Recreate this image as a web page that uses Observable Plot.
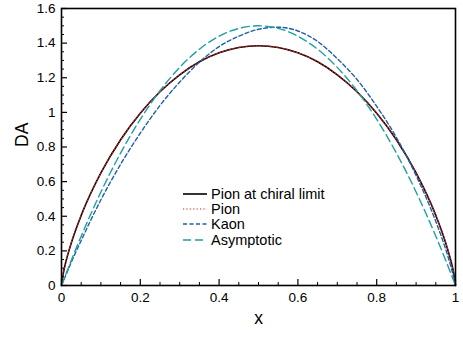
<!DOCTYPE html>
<html>
<head>
<meta charset="utf-8">
<script src="https://cdn.jsdelivr.net/npm/d3@7"></script>
<script src="https://cdn.jsdelivr.net/npm/@observablehq/plot@0.6"></script>
<style>
  html, body { margin: 0; padding: 0; background: #fff; }
  #wrap { position: relative; width: 463px; height: 347px; font-family: "Liberation Sans", Arial, Helvetica, sans-serif; }
  #legend { position: absolute; left: 183px; top: 186px; font-size: 14.5px; color: #000; }
  #legend .row { display: flex; align-items: center; height: 15.4px; }
  #legend svg { margin-right: 4px; }
</style>
</head>
<body>
<div id="wrap"><div id="chart"></div><div id="legend"></div></div>
<script>
// ---- data ----
const xChiral = [0, 0.005, 0.01, 0.025, 0.05, 0.1, 0.15, 0.2, 0.25, 0.3, 0.35, 0.4, 0.45, 0.5, 0.55, 0.6, 0.65, 0.7, 0.75, 0.8, 0.85, 0.9, 0.95, 0.975, 0.99, 0.995, 1];
const yChiral = [0, 0.076, 0.127, 0.247, 0.405, 0.650, 0.842, 0.995, 1.119, 1.217, 1.292, 1.344, 1.375, 1.385, 1.375, 1.344, 1.292, 1.217, 1.119, 0.995, 0.842, 0.650, 0.405, 0.247, 0.127, 0.076, 0];
const xPion = [0, 0.005, 0.01, 0.025, 0.05, 0.1, 0.15, 0.2, 0.25, 0.3, 0.35, 0.4, 0.45, 0.5, 0.55, 0.6, 0.65, 0.7, 0.75, 0.8, 0.85, 0.9, 0.95, 0.975, 0.99, 0.995, 1];
const yPion = [0, 0.076, 0.127, 0.247, 0.405, 0.650, 0.842, 0.995, 1.119, 1.217, 1.292, 1.344, 1.375, 1.385, 1.375, 1.344, 1.292, 1.217, 1.119, 0.995, 0.842, 0.650, 0.405, 0.247, 0.127, 0.076, 0];
const xKaon = [0, 0.025, 0.05, 0.1, 0.15, 0.2, 0.25, 0.3, 0.35, 0.4, 0.45, 0.5, 0.55, 0.6, 0.65, 0.7, 0.75, 0.8, 0.85, 0.9, 0.95, 0.975, 0.99, 1];
const yKaon = [0, 0.135, 0.26, 0.495, 0.70, 0.88, 1.04, 1.175, 1.29, 1.38, 1.44, 1.48, 1.492, 1.47, 1.41, 1.31, 1.19, 1.035, 0.855, 0.635, 0.37, 0.21, 0.095, 0];
const xAsym = [0, 0.025, 0.05, 0.1, 0.15, 0.2, 0.25, 0.3, 0.35, 0.4, 0.45, 0.5, 0.55, 0.6, 0.65, 0.7, 0.75, 0.8, 0.85, 0.9, 0.95, 0.975, 1];
const yAsym = [0, 0.146, 0.285, 0.54, 0.765, 0.96, 1.125, 1.26, 1.365, 1.44, 1.485, 1.5, 1.485, 1.44, 1.365, 1.26, 1.125, 0.96, 0.765, 0.54, 0.285, 0.146, 0];

const seriesNames = ["Pion at chiral limit", "Pion", "Kaon", "Asymptotic"];
const xMajor = [0, 0.2, 0.4, 0.6, 0.8, 1];
const xMinor = [0.05, 0.1, 0.15, 0.25, 0.3, 0.35, 0.45, 0.5, 0.55, 0.65, 0.7, 0.75, 0.85, 0.9, 0.95];
const yMajor = [0, 0.2, 0.4, 0.6, 0.8, 1, 1.2, 1.4, 1.6];
const yMinor = [0.05, 0.1, 0.15, 0.25, 0.3, 0.35, 0.45, 0.5, 0.55, 0.65, 0.7, 0.75, 0.85, 0.9, 0.95, 1.05, 1.1, 1.15, 1.25, 1.3, 1.35, 1.45, 1.5, 1.55];

// ---- styles ----
const styles = [
  {stroke: "#000000", strokeWidth: 1.6, dash: null},
  {stroke: "#cc2020", strokeWidth: 1.1, dash: "1.2,2.2"},
  {stroke: "#1f5fa6", strokeWidth: 1.4, dash: "4,2.5"},
  {stroke: "#1ea0a0", strokeWidth: 1.4, dash: "8,4"}
];
const xsAll = [xChiral, xPion, xKaon, xAsym];
const ysAll = [yChiral, yPion, yKaon, yAsym];
const tables = xsAll.map((xs, i) => xs.map((x, j) => ({x, y: ysAll[i][j]})));

const W = 463, H = 347, mL = 61, mR = 8, mT = 8, mB = 62;
const fw = W - mL - mR, fh = H - mT - mB;
const font = "Liberation Sans, Arial, Helvetica, sans-serif";

const chart = Plot.plot({
  width: W, height: H,
  marginLeft: mL, marginRight: mR, marginTop: mT, marginBottom: mB,
  style: {fontFamily: font, background: "#fff", overflow: "visible"},
  x: {domain: [0, 1]},
  y: {domain: [0, 1.6]},
  marks: [
    Plot.axisX(xMajor, {tickSize: 0, tickPadding: 7, fontSize: 13.5, tickFormat: d3.format("~g"), label: null, fill: "#000"}),
    Plot.axisY(yMajor, {tickSize: 0, tickPadding: 6, fontSize: 13.5, tickFormat: d3.format("~g"), label: null, fill: "#000"}),
    Plot.tickX(xMajor, {x: d => d, insetTop: fh - 6, stroke: "#000", strokeWidth: 1.2}),
    Plot.tickX(xMinor, {x: d => d, insetTop: fh - 3, stroke: "#000", strokeWidth: 1}),
    Plot.tickY(yMajor, {y: d => d, insetRight: fw - 6, stroke: "#000", strokeWidth: 1.2}),
    Plot.tickY(yMinor, {y: d => d, insetRight: fw - 3, stroke: "#000", strokeWidth: 1}),
    ...tables.map((t, i) => Plot.line(t, {
      x: "x", y: "y", curve: "monotone-x",
      stroke: styles[i].stroke, strokeWidth: styles[i].strokeWidth,
      strokeDasharray: styles[i].dash
    })),
    Plot.frame({stroke: "#000", strokeWidth: 1.6}),
    Plot.text(["DA"], {frameAnchor: "left", dx: -39, rotate: -90, fontSize: 17.5, fill: "#000", text: d => d}),
    Plot.text(["x"], {frameAnchor: "bottom", dy: 38, fontSize: 17.5, fill: "#000", text: d => d})
  ]
});
document.getElementById("chart").appendChild(chart);

// ---- legend ----
const legend = d3.select("#legend");
seriesNames.forEach((name, i) => {
  const row = legend.append("div").attr("class", "row");
  const svg = row.append("svg").attr("width", 24).attr("height", 10);
  svg.append("line").attr("x1", 0).attr("x2", 24).attr("y1", 5).attr("y2", 5)
    .attr("stroke", styles[i].stroke).attr("stroke-width", styles[i].strokeWidth)
    .attr("stroke-dasharray", styles[i].dash);
  row.append("span").text(name);
});
</script>
</body>
</html>
